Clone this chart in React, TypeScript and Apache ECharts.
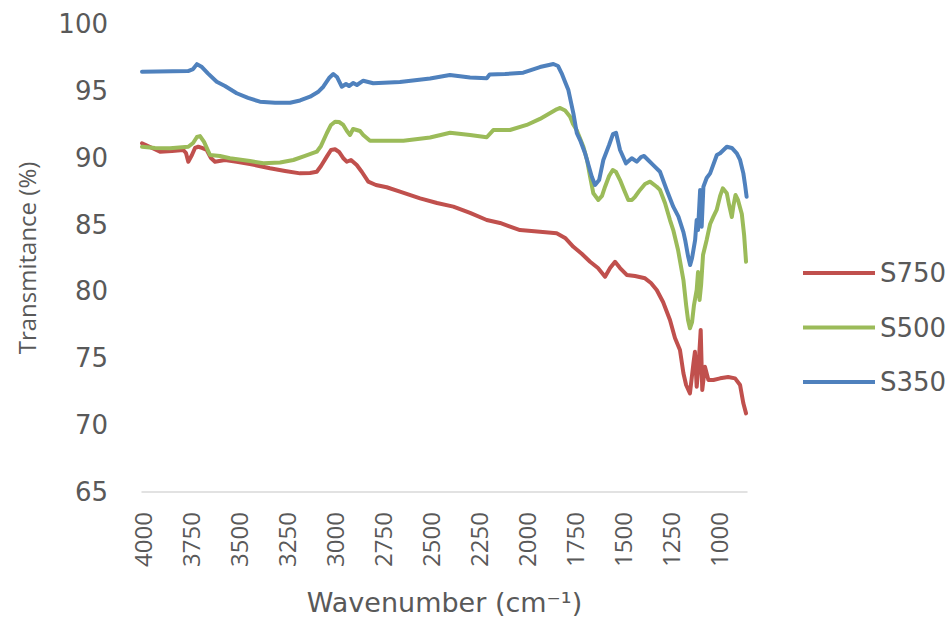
import React, { useEffect, useRef } from "react";
import * as echarts from "echarts";

// Tick labels along the wavenumber axis
const xTickValues = [4000, 3750, 3500, 3250, 3000, 2750, 2500, 2250, 2000, 1750, 1500, 1250, 1000];

const seriesNames = ["S750", "S500", "S350"];
const seriesColors = ["#C0504D", "#9BBB59", "#4F81BD"];

// S750 spectrum
const s750Wavenumber = [
  4000, 3958, 3906, 3844, 3785, 3771, 3759, 3740, 3724, 3707,
  3688, 3663, 3641, 3620, 3568, 3507, 3438, 3334, 3255, 3177,
  3125, 3090, 3068, 3038, 3016, 2995, 2974, 2953, 2934, 2912,
  2882, 2855, 2822, 2782, 2726, 2657, 2552, 2464, 2379, 2292,
  2205, 2136, 2032, 1928, 1841, 1797, 1754, 1709, 1667, 1626,
  1589, 1563, 1537, 1511, 1476, 1433, 1381, 1350, 1320, 1287,
  1251, 1225, 1199, 1181, 1167, 1147, 1129, 1121, 1112, 1102,
  1091, 1083, 1069, 1051, 1025, 990, 948, 912, 886, 869,
  855,
];
const s750Transmittance = [
  91.08, 90.8, 90.45, 90.5, 90.58, 90.35, 89.7, 90.2, 90.73, 90.82,
  90.73, 90.58, 89.98, 89.7, 89.83, 89.7, 89.53, 89.21, 89.01, 88.83,
  88.86, 88.95, 89.38, 90.08, 90.58, 90.63, 90.43, 89.98, 89.7, 89.83,
  89.45, 88.93, 88.21, 87.96, 87.79, 87.47, 86.96, 86.61, 86.34, 85.87,
  85.34, 85.12, 84.59, 84.47, 84.35, 84.0, 83.34, 82.8, 82.22, 81.75,
  81.1, 81.75, 82.22, 81.75, 81.23, 81.15, 80.98, 80.63, 80.11, 79.21,
  77.86, 76.52, 75.62, 73.88, 73.0, 72.38, 74.62, 75.49, 72.87, 74.5,
  77.12, 72.63, 74.37, 73.38, 73.38, 73.5, 73.6, 73.5, 73.0, 71.63,
  70.88,
];

// S500 spectrum
const s500Wavenumber = [
  4000, 3932, 3854, 3759, 3734, 3714, 3698, 3677, 3646, 3594,
  3542, 3438, 3368, 3281, 3212, 3151, 3090, 3068, 3038, 3016,
  2995, 2974, 2952, 2933, 2917, 2901, 2882, 2865, 2848, 2813,
  2639, 2500, 2396, 2292, 2205, 2171, 2084, 1997, 1928, 1841,
  1823, 1797, 1771, 1756, 1737, 1702, 1683, 1667, 1650, 1624,
  1605, 1589, 1568, 1549, 1532, 1511, 1490, 1468, 1449, 1433,
  1407, 1381, 1355, 1320, 1303, 1277, 1251, 1234, 1209, 1181,
  1167, 1157, 1147, 1136, 1126, 1112, 1105, 1097, 1089, 1079,
  1060, 1042, 1025, 1008, 990, 976, 955, 943, 929, 920,
  910, 897, 877, 865, 855,
];
const s500Transmittance = [
  90.82, 90.73, 90.7, 90.82, 91.1, 91.55, 91.62, 91.18, 90.2, 90.13,
  89.96, 89.75, 89.58, 89.64, 89.83, 90.13, 90.45, 90.88, 91.83, 92.45,
  92.69, 92.67, 92.45, 92.0, 91.7, 92.15, 92.07, 92.0, 91.7, 91.27,
  91.27, 91.51, 91.87, 91.7, 91.53, 92.07, 92.07, 92.45, 92.9, 93.62,
  93.72, 93.53, 93.07, 92.52, 92.07, 90.82, 89.83, 88.58, 87.34, 86.84,
  87.14, 87.83, 88.63, 89.08, 88.93, 88.33, 87.59, 86.84, 86.84, 87.08,
  87.59, 88.03, 88.21, 87.83, 87.59, 86.61, 85.34, 84.59, 83.1, 80.85,
  78.98, 77.86, 77.24, 77.71, 78.98, 80.11, 81.45, 79.36, 80.48, 82.72,
  83.85, 85.04, 85.59, 86.09, 87.14, 87.71, 87.34, 86.46, 85.57, 86.46,
  87.21, 86.84, 85.79, 84.22, 82.22,
];

// S350 spectrum
const s350Wavenumber = [
  4000, 3760, 3734, 3714, 3688, 3657, 3611, 3568, 3507, 3448,
  3386, 3307, 3229, 3177, 3125, 3084, 3056, 3026, 3004, 2985,
  2960, 2938, 2922, 2900, 2881, 2848, 2796, 2657, 2500, 2397,
  2292, 2205, 2190, 2110, 2015, 1928, 1858, 1834, 1815, 1797,
  1780, 1754, 1736, 1719, 1693, 1658, 1641, 1620, 1598, 1568,
  1548, 1532, 1511, 1480, 1450, 1424, 1402, 1386, 1365, 1338,
  1303, 1268, 1234, 1207, 1181, 1172, 1157, 1146, 1136, 1120,
  1112, 1105, 1094, 1086, 1077, 1060, 1042, 1007, 990, 955,
  929, 903, 886, 869, 860, 852,
];
const s350Transmittance = [
  96.43, 96.48, 96.63, 97.0, 96.78, 96.31, 95.68, 95.36, 94.82, 94.47,
  94.19, 94.11, 94.11, 94.28, 94.56, 94.91, 95.31, 95.96, 96.26, 96.04,
  95.31, 95.51, 95.36, 95.59, 95.44, 95.76, 95.57, 95.66, 95.92, 96.19,
  96.0, 95.94, 96.22, 96.26, 96.36, 96.78, 97.01, 96.86, 96.31, 95.66,
  95.06, 93.32, 91.83, 91.32, 90.33, 88.58, 87.96, 88.33, 89.83, 90.95,
  91.77, 91.87, 90.58, 89.58, 89.96, 89.7, 90.05, 90.13, 89.83, 89.45,
  88.95, 87.59, 86.34, 85.59, 84.44, 83.85, 82.65, 81.98, 82.5, 83.85,
  85.34, 84.59, 87.59, 84.84, 87.83, 88.48, 88.83, 90.2, 90.33, 90.82,
  90.73, 90.33, 89.83, 88.83, 87.96, 87.08,
];

const spectra = [
  { x: s750Wavenumber, y: s750Transmittance },
  { x: s500Wavenumber, y: s500Transmittance },
  { x: s350Wavenumber, y: s350Transmittance },
];

const textColor = "#595959";

export default function App() {
  const ref = useRef<HTMLDivElement>(null);

  useEffect(() => {
    if (!ref.current) return;
    const chart = echarts.init(ref.current, null, { renderer: "svg" });

    chart.setOption({
      animation: false,
      backgroundColor: "#ffffff",
      grid: {
        left: 142,
        right: 201,
        top: 24,
        bottom: 136,
        containLabel: false,
        outerBoundsMode: "none",
      },
      legend: {
        data: seriesNames,
        orient: "vertical",
        left: 798,
        top: 253,
        icon: "rect",
        itemWidth: 72,
        itemHeight: 4,
        itemGap: 24.5,
        textStyle: {
          fontFamily: "DejaVu Sans",
          fontSize: 26,
          lineHeight: 30,
          color: textColor,
        },
      },
      xAxis: {
        type: "value",
        inverse: true,
        min: 850,
        max: 4000,
        axisLine: { show: true, lineStyle: { color: "#d9d9d9", width: 1.5 } },
        axisTick: { show: false },
        splitLine: { show: false },
        axisLabel: {
          customValues: xTickValues,
          formatter: (v: number) => String(v),
          rotate: 90,
          margin: 20,
          fontFamily: "Open Sans",
          fontSize: 24,
          color: textColor,
        },
        name: "Wavenumber (cm\u207B\u00B9)",
        nameLocation: "middle",
        nameGap: 97,
        nameTextStyle: {
          fontFamily: "DejaVu Sans",
          fontSize: 27,
          color: textColor,
        },
      },
      yAxis: {
        type: "value",
        min: 65,
        max: 100,
        interval: 5,
        axisLine: { show: false },
        axisTick: { show: false },
        splitLine: { show: false },
        axisLabel: {
          margin: 34,
          fontFamily: "DejaVu Sans",
          fontSize: 26,
          color: textColor,
        },
        name: "Transmitance (%)",
        nameLocation: "middle",
        nameGap: 104,
        nameTextStyle: {
          fontFamily: "Open Sans",
          fontSize: 24,
          color: textColor,
        },
      },
      series: spectra.map((s, i) => ({
        name: seriesNames[i],
        type: "line",
        symbol: "none",
        showSymbol: false,
        data: s.x.map((w, k) => [w, s.y[k]]),
        lineStyle: { width: 4, color: seriesColors[i], join: "round", cap: "round" },
        itemStyle: { color: seriesColors[i] },
        z: 2 + i,
      })),
    });

    return () => chart.dispose();
  }, []);

  return (
    <div
      ref={ref}
      style={{ position: "absolute", left: 0, top: 0, width: 948, height: 628 }}
    />
  );
}
